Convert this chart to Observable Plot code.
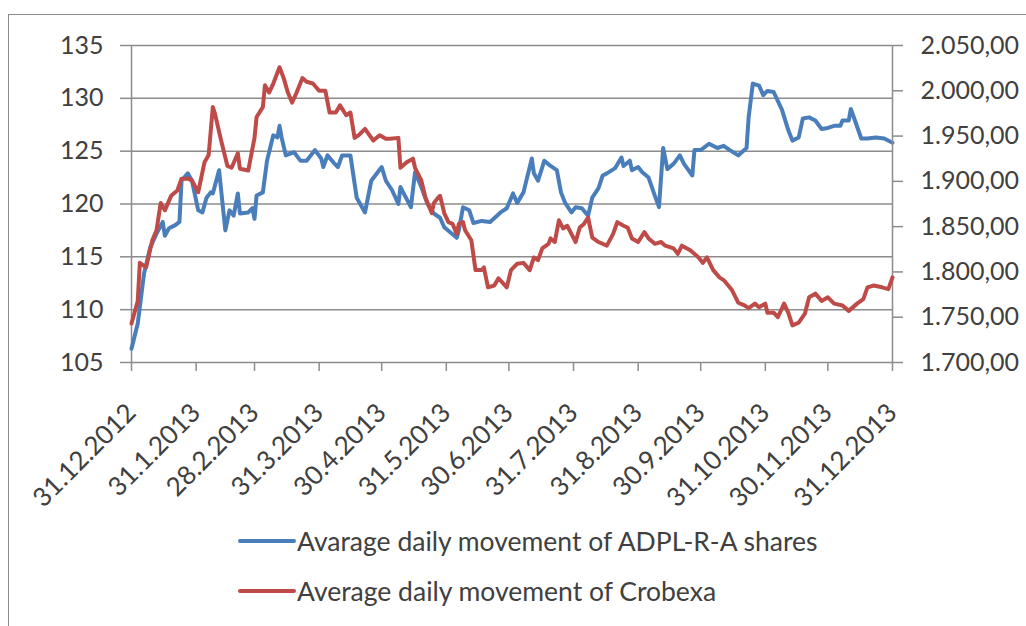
<!DOCTYPE html>
<html>
<head>
<meta charset="utf-8">
<script src="https://cdn.jsdelivr.net/npm/d3@7"></script>
<script src="https://cdn.jsdelivr.net/npm/@observablehq/plot@0.6"></script>
<style>
  html, body { margin: 0; padding: 0; background: #fff; overflow: hidden; width: 1026px; height: 626px; }
  #frame { position: absolute; left: 8px; top: 14px; width: 1100px; height: 700px; border: 1.5px solid #8c8c8c; box-sizing: border-box; }
  #chart { position: absolute; left: 0; top: 0; width: 1026px; }
  #chart svg { position: absolute; left: 0; top: 0; }
  #legend { position: absolute; left: 0; top: 0; font-family: Lato, "Liberation Sans", sans-serif; font-size: 26.5px; color: #404040; }
  .item { position: absolute; left: 238px; display: flex; align-items: center; white-space: nowrap; }
  .sw { width: 58px; height: 4px; border-radius: 2px; margin-right: 1px; }
</style>
</head>
<body>
<div id="frame"></div>
<div id="chart"></div>
<div id="legend"></div>
<script>
// ---------- data ----------
const tickDates = ["2012-12-31","2013-01-31","2013-02-28","2013-03-31","2013-04-30","2013-05-31","2013-06-30","2013-07-31","2013-08-31","2013-09-30","2013-10-31","2013-11-30","2013-12-31"];
const leftTicks = [105, 110, 115, 120, 125, 130, 135];
const rightTicks = [1700, 1750, 1800, 1850, 1900, 1950, 2000, 2050];

const seriesNames = ["Avarage daily movement of ADPL-R-A shares", "Average daily movement of Crobexa"];

const adplDates = ["2012-12-31","2013-01-03","2013-01-06","2013-01-09","2013-01-12","2013-01-15","2013-01-16","2013-01-18","2013-01-21","2013-01-23","2013-01-24","2013-01-27","2013-01-29","2013-02-01","2013-02-03","2013-02-05","2013-02-07","2013-02-08","2013-02-11","2013-02-14","2013-02-16","2013-02-18","2013-02-20","2013-02-21","2013-02-25","2013-02-27","2013-02-28","2013-03-01","2013-03-04","2013-03-06","2013-03-09","2013-03-11","2013-03-12","2013-03-13","2013-03-15","2013-03-19","2013-03-22","2013-03-25","2013-03-29","2013-04-01","2013-04-02","2013-04-04","2013-04-07","2013-04-09","2013-04-11","2013-04-15","2013-04-18","2013-04-22","2013-04-25","2013-04-30","2013-05-02","2013-05-05","2013-05-08","2013-05-09","2013-05-14","2013-05-16","2013-05-19","2013-05-22","2013-05-25","2013-05-28","2013-05-30","2013-06-02","2013-06-05","2013-06-06","2013-06-08","2013-06-11","2013-06-13","2013-06-17","2013-06-21","2013-06-26","2013-06-29","2013-07-02","2013-07-04","2013-07-07","2013-07-11","2013-07-12","2013-07-14","2013-07-17","2013-07-20","2013-07-23","2013-07-25","2013-07-27","2013-07-30","2013-08-01","2013-08-04","2013-08-07","2013-08-09","2013-08-12","2013-08-14","2013-08-16","2013-08-20","2013-08-23","2013-08-24","2013-08-27","2013-08-28","2013-08-31","2013-09-02","2013-09-05","2013-09-08","2013-09-10","2013-09-12","2013-09-14","2013-09-17","2013-09-20","2013-09-22","2013-09-26","2013-09-27","2013-09-30","2013-10-04","2013-10-08","2013-10-11","2013-10-14","2013-10-18","2013-10-22","2013-10-23","2013-10-25","2013-10-28","2013-10-30","2013-11-01","2013-11-04","2013-11-08","2013-11-11","2013-11-13","2013-11-16","2013-11-18","2013-11-21","2013-11-24","2013-11-27","2013-11-30","2013-12-03","2013-12-06","2013-12-07","2013-12-10","2013-12-11","2013-12-13","2013-12-16","2013-12-19","2013-12-23","2013-12-27","2013-12-31"];
const adplValues = [106.3,108.7,113.4,115.9,117.2,118.3,117.0,117.7,118.0,118.3,122.2,122.9,122.2,119.4,119.2,120.6,121.1,121.0,123.2,117.5,119.4,118.9,121.0,119.1,119.2,119.6,118.6,120.8,121.1,124.1,126.5,126.3,127.4,126.3,124.6,124.9,124.1,124.1,125.1,124.3,123.5,124.6,123.9,123.5,124.6,124.6,120.6,119.2,122.2,123.5,122.2,121.3,120.0,121.6,119.7,123.0,121.6,120.0,119.1,118.7,117.8,117.3,116.8,117.5,119.7,119.4,118.2,118.4,118.3,119.2,119.6,121.0,120.1,121.1,124.3,122.9,122.2,124.1,123.6,123.2,121.1,120.1,119.2,119.7,119.6,118.9,120.6,121.5,122.7,122.9,123.4,124.4,123.6,124.1,123.2,123.5,123.0,122.5,120.8,119.7,125.3,123.3,123.8,124.6,123.8,122.7,125.1,125.1,125.7,125.3,125.5,125.1,124.6,125.3,128.2,131.4,131.2,130.3,130.7,130.6,128.9,127.0,126.0,126.3,128.1,128.2,127.9,127.1,127.2,127.4,127.4,127.9,127.9,129.0,127.9,126.2,126.2,126.3,126.2,125.8];

const crobexDates = ["2012-12-31","2013-01-03","2013-01-04","2013-01-07","2013-01-10","2013-01-12","2013-01-14","2013-01-16","2013-01-19","2013-01-22","2013-01-24","2013-01-27","2013-01-29","2013-02-01","2013-02-04","2013-02-06","2013-02-08","2013-02-09","2013-02-12","2013-02-15","2013-02-17","2013-02-20","2013-02-21","2013-02-25","2013-02-28","2013-03-01","2013-03-04","2013-03-05","2013-03-07","2013-03-09","2013-03-12","2013-03-14","2013-03-16","2013-03-18","2013-03-20","2013-03-23","2013-03-25","2013-03-28","2013-03-31","2013-04-03","2013-04-05","2013-04-08","2013-04-10","2013-04-13","2013-04-15","2013-04-17","2013-04-19","2013-04-22","2013-04-26","2013-04-29","2013-05-02","2013-05-04","2013-05-08","2013-05-09","2013-05-12","2013-05-15","2013-05-16","2013-05-19","2013-05-21","2013-05-24","2013-05-25","2013-05-27","2013-05-28","2013-05-30","2013-06-01","2013-06-03","2013-06-05","2013-06-06","2013-06-08","2013-06-09","2013-06-12","2013-06-14","2013-06-17","2013-06-18","2013-06-20","2013-06-23","2013-06-25","2013-06-29","2013-07-01","2013-07-04","2013-07-07","2013-07-10","2013-07-12","2013-07-14","2013-07-16","2013-07-19","2013-07-20","2013-07-22","2013-07-24","2013-07-26","2013-07-28","2013-07-30","2013-08-01","2013-08-03","2013-08-05","2013-08-07","2013-08-09","2013-08-12","2013-08-16","2013-08-19","2013-08-21","2013-08-24","2013-08-26","2013-08-28","2013-08-31","2013-09-03","2013-09-05","2013-09-08","2013-09-11","2013-09-13","2013-09-17","2013-09-19","2013-09-21","2013-09-25","2013-09-29","2013-10-01","2013-10-03","2013-10-06","2013-10-09","2013-10-11","2013-10-15","2013-10-18","2013-10-21","2013-10-23","2013-10-26","2013-10-28","2013-10-31","2013-11-01","2013-11-04","2013-11-06","2013-11-09","2013-11-11","2013-11-13","2013-11-16","2013-11-19","2013-11-21","2013-11-24","2013-11-27","2013-11-30","2013-12-03","2013-12-07","2013-12-10","2013-12-14","2013-12-17","2013-12-19","2013-12-22","2013-12-26","2013-12-29","2013-12-31"];
const crobexValues = [1743,1768,1810,1805,1835,1846,1876,1868,1884,1890,1903,1903,1901,1888,1921,1929,1982,1975,1945,1917,1915,1931,1914,1912,1948,1971,1982,2006,1998,2008,2026,2014,1998,1987,1997,2014,2010,2008,2000,2000,1976,1976,1984,1973,1976,1948,1951,1958,1945,1951,1947,1947,1948,1915,1921,1925,1915,1901,1882,1865,1876,1882,1884,1865,1855,1853,1842,1853,1855,1846,1835,1802,1802,1805,1783,1785,1793,1783,1802,1809,1810,1802,1816,1813,1826,1831,1837,1833,1857,1848,1851,1842,1833,1849,1853,1860,1838,1833,1829,1842,1855,1851,1849,1837,1833,1844,1837,1831,1833,1829,1826,1820,1829,1824,1816,1810,1816,1802,1794,1791,1780,1766,1763,1760,1765,1761,1765,1755,1755,1750,1765,1755,1741,1744,1754,1772,1776,1768,1772,1765,1763,1757,1765,1770,1783,1785,1783,1781,1794];

// ---------- build ----------
const parse = d3.utcParse("%Y-%m-%d");
const adpl = adplDates.map((d, i) => ({date: parse(d), value: adplValues[i]}));
const crobex = crobexDates.map((d, i) => ({date: parse(d), value: crobexValues[i]}));
const ticks = tickDates.map(parse);

const W = 1026, H = 500;
const M = {top: 45, bottom: 138, left: 131, right: 134};
const FONT = "Lato, 'Liberation Sans', sans-serif";
const GRID = "#8c8c8c";
const BLUE = "#4a7ebb", RED = "#be4b48";
const xDomain = [ticks[0], ticks[ticks.length - 1]];

const locale = d3.formatLocale({decimal: ",", thousands: ".", grouping: [3], currency: ["", ""]});
const fmtRight = locale.format(",.2f");
const fmtDate = d3.utcFormat("%-d.%-m.%Y");

const common = {
  width: W, height: H,
  marginTop: M.top, marginBottom: M.bottom, marginLeft: M.left, marginRight: M.right,
  style: {fontFamily: FONT, fontSize: "25px", color: "#404040", background: "transparent", overflow: "visible"},
  x: {type: "utc", domain: xDomain}
};

const plot1 = Plot.plot({
  ...common,
  y: {domain: [105, 135]},
  marks: [
    Plot.ruleY(leftTicks, {stroke: GRID, strokeWidth: 1.5}),
    Plot.ruleX([xDomain[0]], {stroke: GRID, strokeWidth: 1.5}),
    Plot.axisY(leftTicks, {anchor: "left", tickSize: 11, tickPadding: 17, label: null, stroke: GRID, strokeWidth: 1.5, strokeOpacity: 1}),
    Plot.axisX(ticks, {anchor: "bottom", tickSize: 9, tickPadding: 37, tickRotate: -45, tickFormat: fmtDate, label: null, fontSize: 26, stroke: GRID, strokeWidth: 1.5, strokeOpacity: 1}),
    Plot.lineY(adpl, {x: "date", y: "value", stroke: BLUE, strokeWidth: 4, strokeLinejoin: "round", curve: "linear"})
  ]
});

const plot2 = Plot.plot({
  ...common,
  y: {domain: [1700, 2050]},
  marks: [
    Plot.ruleX([xDomain[1]], {stroke: GRID, strokeWidth: 1.5}),
    Plot.axisY(rightTicks, {anchor: "right", tickSize: 10, tickPadding: 18, tickFormat: fmtRight, label: null, stroke: GRID, strokeWidth: 1.5, strokeOpacity: 1}),
    Plot.axisX({ticks: []}),
    Plot.lineY(crobex, {x: "date", y: "value", stroke: RED, strokeWidth: 4, strokeLinejoin: "round", curve: "linear"})
  ]
});

const chart = document.getElementById("chart");
chart.style.height = H + "px";
chart.appendChild(plot1);
chart.appendChild(plot2);

// legend
const legend = document.getElementById("legend");
[[seriesNames[0], BLUE, 541], [seriesNames[1], RED, 591]].forEach(([name, color, y]) => {
  const item = document.createElement("div");
  item.className = "item";
  item.style.top = (y - 16) + "px";
  item.style.height = "32px";
  const sw = document.createElement("span");
  sw.className = "sw";
  sw.style.background = color;
  const t = document.createElement("span");
  t.textContent = name;
  item.appendChild(sw);
  item.appendChild(t);
  legend.appendChild(item);
});
</script>
</body>
</html>
